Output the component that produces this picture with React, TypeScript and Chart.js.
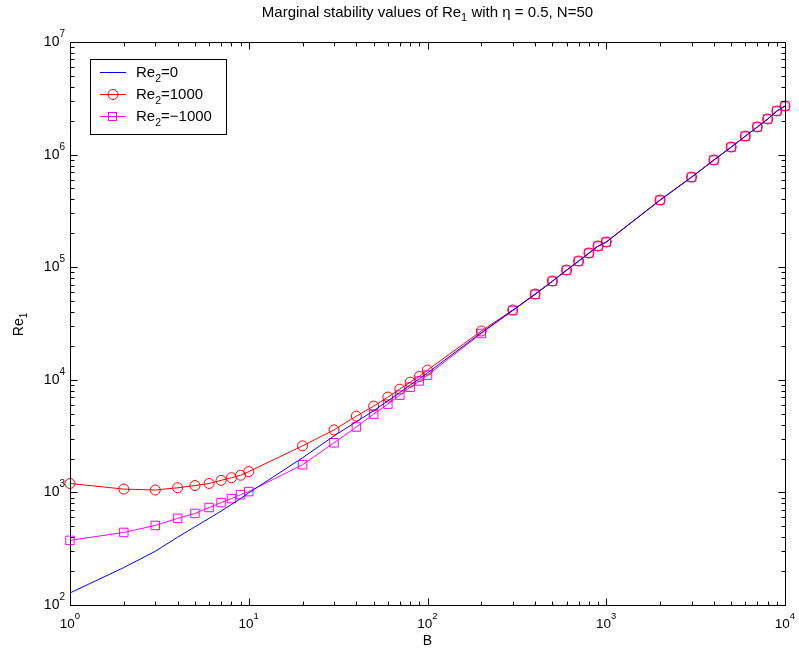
import React, { useEffect, useRef } from "react";
import { Chart, registerables } from "chart.js";

Chart.register(...registerables);

const B = [1, 2, 3, 4, 5, 6, 7, 8, 9, 10, 20, 30, 40, 50, 60, 70, 80, 90, 100, 200, 300, 400, 500, 600, 700, 800, 900, 1000, 2000, 3000, 4000, 5000, 6000, 7000, 8000, 9000, 10000];

const re2Zero = [128, 215, 300, 400, 495, 588, 682, 780, 881, 990, 2030, 3170, 4250, 5310, 6500, 7700, 9000, 10200, 11500, 26200, 41400, 57500, 75000, 94000, 113000, 133200, 153800, 167000, 394000, 630000, 894000, 1166000, 1458000, 1758000, 2068000, 2436000, 2695000];

const re2Plus = [1200, 1070, 1050, 1100, 1150, 1200, 1280, 1350, 1420, 1530, 2590, 3590, 4760, 5840, 7020, 8260, 9530, 10700, 12200, 27100, 41700, 57800, 75400, 94400, 113500, 133700, 154300, 167400, 395000, 631000, 895000, 1167000, 1460000, 1760000, 2070000, 2440000, 2700000];

const re2Minus = [375, 441, 509, 588, 650, 734, 812, 881, 955, 1016, 1760, 2760, 3810, 4960, 6080, 7310, 8600, 9770, 11000, 25800, 41200, 57300, 75000, 94000, 113000, 133300, 153900, 167000, 394000, 630000, 894000, 1166000, 1458000, 1758000, 2068000, 2436000, 2695000];

const xDecades = [0, 1, 2, 3, 4];
const yDecades = [2, 3, 4, 5, 6, 7];

const FONT = "'Liberation Sans', Arial, Helvetica, sans-serif";

type Part = { t: string; size: number; dy: number };

function drawParts(ctx: CanvasRenderingContext2D, parts: Part[], x: number, y: number, align: "left" | "center" | "right") {
  let total = 0;
  const widths = parts.map((p) => {
    ctx.font = `${p.size}px ${FONT}`;
    const w = ctx.measureText(p.t).width;
    total += w;
    return w;
  });
  let cx = align === "left" ? x : align === "center" ? x - total / 2 : x - total;
  ctx.textAlign = "left";
  ctx.textBaseline = "alphabetic";
  parts.forEach((p, i) => {
    ctx.font = `${p.size}px ${FONT}`;
    ctx.fillText(p.t, cx, y + p.dy);
    cx += widths[i];
  });
}

const decorPlugin = {
  id: "matlabDecor",
  afterDraw(chart: any) {
    const ctx: CanvasRenderingContext2D = chart.ctx;
    const { left, right, top, bottom } = chart.chartArea;
    const xs = chart.scales.x;
    const ys = chart.scales.y;
    const L = Math.round(left) + 0.5;
    const R = Math.round(right) + 0.5;
    const T = Math.round(top) + 0.5;
    const Bt = Math.round(bottom) + 0.5;
    ctx.save();
    ctx.strokeStyle = "#000";
    ctx.fillStyle = "#000";
    ctx.lineWidth = 1;
    ctx.beginPath();
    ctx.rect(L, T, R - L, Bt - T);
    ctx.stroke();

    ctx.beginPath();
    xDecades.forEach((d) => {
      for (let k = 1; k <= 9; k++) {
        const v = k * Math.pow(10, d);
        if (v > Math.pow(10, xDecades[xDecades.length - 1])) break;
        const px = Math.round(xs.getPixelForValue(v)) + 0.5;
        const len = k === 1 ? 7 : 4;
        ctx.moveTo(px, Bt);
        ctx.lineTo(px, Bt - len);
        ctx.moveTo(px, T);
        ctx.lineTo(px, T + len);
      }
    });
    yDecades.forEach((d) => {
      for (let k = 1; k <= 9; k++) {
        const v = k * Math.pow(10, d);
        if (v > Math.pow(10, yDecades[yDecades.length - 1])) break;
        const py = Math.round(ys.getPixelForValue(v)) + 0.5;
        const len = k === 1 ? 7 : 4;
        ctx.moveTo(L, py);
        ctx.lineTo(L + len, py);
        ctx.moveTo(R, py);
        ctx.lineTo(R - len, py);
      }
    });
    ctx.stroke();

    xDecades.forEach((d) => {
      const px = xs.getPixelForValue(Math.pow(10, d));
      drawParts(ctx, [{ t: "10", size: 13.5, dy: 0 }, { t: String(d), size: 9.5, dy: -9 }], px, bottom + 23, "center");
    });
    yDecades.forEach((d) => {
      const py = ys.getPixelForValue(Math.pow(10, d));
      drawParts(ctx, [{ t: "10", size: 14, dy: 0 }, { t: String(d), size: 10, dy: -9 }], left - 5, py + 4, "right");
    });

    drawParts(ctx, [{ t: "B", size: 14, dy: 0 }], (left + right) / 2, bottom + 40, "center");
    ctx.save();
    ctx.translate(23, (top + bottom) / 2 + 1);
    ctx.rotate(-Math.PI / 2);
    drawParts(ctx, [{ t: "Re", size: 14, dy: 0 }, { t: "1", size: 10, dy: 4 }], 0, 0, "center");
    ctx.restore();

    drawParts(
      ctx,
      [
        { t: "Marginal stability values of Re", size: 15, dy: 0 },
        { t: "1", size: 11, dy: 4 },
        { t: " with \u03b7 = 0.5, N=50", size: 15, dy: 0 },
      ],
      (left + right) / 2,
      17,
      "center"
    );

    const lx = 90.5, ly = 59.5, lw = 136, lh = 75;
    ctx.fillStyle = "#fff";
    ctx.fillRect(lx, ly, lw, lh);
    ctx.strokeStyle = "#000";
    ctx.strokeRect(lx, ly, lw, lh);
    const entries = [
      { label: "=0", color: "#0000ff", marker: "none" },
      { label: "=1000", color: "#ff0000", marker: "circle" },
      { label: "=\u22121000", color: "#ff00ff", marker: "rect" },
    ];
    const rowY = [72, 94, 116];
    entries.forEach((e, i) => {
      const y = rowY[i] + 0.5;
      ctx.strokeStyle = e.color;
      ctx.lineWidth = 1;
      ctx.beginPath();
      ctx.moveTo(100, y);
      ctx.lineTo(126, y);
      ctx.stroke();
      if (e.marker === "circle") {
        ctx.beginPath();
        ctx.arc(113, y, 5, 0, Math.PI * 2);
        ctx.stroke();
      } else if (e.marker === "rect") {
        ctx.strokeRect(108.5, y - 4, 8, 8);
      }
      ctx.fillStyle = "#000";
      drawParts(
        ctx,
        [
          { t: "Re", size: 15, dy: 0 },
          { t: "2", size: 10.5, dy: 4.5 },
          { t: e.label, size: 15, dy: 0 },
        ],
        136,
        rowY[i] + 5,
        "left"
      );
    });
    ctx.restore();
  },
};

function toPoints(vals: number[]) {
  return B.map((b, i) => ({ x: b, y: vals[i] }));
}

export default function App() {
  const ref = useRef<HTMLCanvasElement | null>(null);
  useEffect(() => {
    document.body.style.margin = "0";
    if (!ref.current) return;
    const chart = new Chart(ref.current, {
      type: "line",
      data: {
        datasets: [
          {
            label: "Re2=0",
            data: toPoints(re2Zero),
            borderColor: "#0000ff",
            borderWidth: 1,
            pointRadius: 0,
            tension: 0,
            fill: false,
          },
          {
            label: "Re2=1000",
            data: toPoints(re2Plus),
            borderColor: "#ff0000",
            borderWidth: 1,
            pointStyle: "circle",
            pointRadius: 5,
            pointBorderWidth: 1,
            pointBorderColor: "#ff0000",
            pointBackgroundColor: "rgba(0,0,0,0)",
            tension: 0,
            fill: false,
            clip: false,
          },
          {
            label: "Re2=-1000",
            data: toPoints(re2Minus),
            borderColor: "#ff00ff",
            borderWidth: 1,
            pointStyle: "rect",
            pointRadius: 6,
            pointBorderWidth: 1,
            pointBorderColor: "#ff00ff",
            pointBackgroundColor: "rgba(0,0,0,0)",
            tension: 0,
            fill: false,
            clip: false,
          },
        ] as any,
      },
      options: {
        responsive: false,
        animation: false,
        layout: { padding: { left: 70, right: 14, top: 42, bottom: 50 } },
        scales: {
          x: { type: "logarithmic", min: 1, max: 10000, display: false },
          y: { type: "logarithmic", min: 100, max: 10000000, display: false },
        },
        plugins: {
          legend: { display: false },
          title: { display: false },
          tooltip: { enabled: false },
        },
        events: [],
      },
      plugins: [decorPlugin],
    });
    return () => chart.destroy();
  }, []);
  return (
    <div style={{ position: "fixed", left: 0, top: 0, width: 799, height: 655, background: "#fff" }}>
      <canvas ref={ref} width={799} height={655} style={{ display: "block" }} />
    </div>
  );
}
